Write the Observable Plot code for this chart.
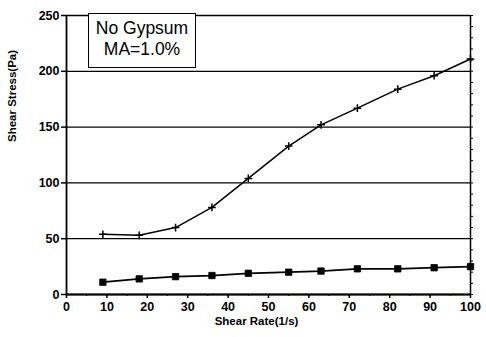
<!DOCTYPE html>
<html>
<head>
<meta charset="utf-8">
<script src="https://cdn.jsdelivr.net/npm/d3@7"></script>
<script src="https://cdn.jsdelivr.net/npm/@observablehq/plot@0.6"></script>
<style>
  html, body { margin: 0; padding: 0; background: #fff; }
  #wrap { position: relative; width: 486px; height: 337px; }
  #note {
    position: absolute; left: 88px; top: 13px; width: 106px; height: 49px;
    border: 1.5px solid #000; background: #fff;
    font-family: "Liberation Sans", Arial, sans-serif; font-size: 17.5px;
    line-height: 21px; text-align: center; padding-top: 4px; box-sizing: content-box;
  }
</style>
</head>
<body>
<div id="wrap"></div>
<script>
// Shear rate (1/s) at each measurement
const shearRate = [9, 18, 27, 36, 45, 55, 63, 72, 82, 91, 100];
// Shear stress (Pa) for the two runs
const stressUpper = [54, 53, 60, 78, 104, 133, 152, 167, 184, 196, 211];
const stressLower = [11, 14, 16, 17, 19, 20, 21, 23, 23, 24, 25];
const xTicks = [0, 10, 20, 30, 40, 50, 60, 70, 80, 90, 100];
const yTicks = [0, 50, 100, 150, 200, 250];
const noteLines = ["No Gypsum", "MA=1.0%"];

const upper = shearRate.map((x, i) => ({x, y: stressUpper[i]}));
const lower = shearRate.map((x, i) => ({x, y: stressLower[i]}));

const font = "'Liberation Sans', Arial, sans-serif";

const chart = Plot.plot({
  width: 486,
  height: 337,
  marginLeft: 66,
  marginRight: 16,
  marginTop: 15,
  marginBottom: 43,
  style: {fontFamily: font, fontSize: "12px", fontWeight: "bold", color: "#000", background: "#fff"},
  x: {domain: [0, 100], label: null},
  y: {domain: [0, 250], label: null},
  marks: [
    Plot.gridY(yTicks, {stroke: "#000", strokeOpacity: 1, strokeWidth: 1.3}),
    Plot.ruleY([0], {stroke: "#000", strokeWidth: 1.8}),
    Plot.ruleX([0], {stroke: "#000", strokeWidth: 1.8}),
    Plot.ruleX([100], {stroke: "#000", strokeWidth: 1.5}),
    Plot.axisX(d3.range(0, 101, 5), {tickSize: 2, text: null, strokeWidth: 1}),
    Plot.axisX(xTicks, {tickSize: 4, tickPadding: 4, fontSize: 12.5, fontWeight: "bold", strokeWidth: 1.5}),
    Plot.axisY(yTicks, {tickSize: 5, tickPadding: 2, fontSize: 12.5, fontWeight: "bold", strokeWidth: 1.5}),
    Plot.axisY(d3.range(0, 251, 10), {anchor: "right", tickSize: 2, text: null, strokeWidth: 1}),
    Plot.lineY(upper, {x: "x", y: "y", stroke: "#000", strokeWidth: 1.5}),
    Plot.dot(upper, {x: "x", y: "y", symbol: "plus", r: 2.6, stroke: "#000", strokeWidth: 1.5}),
    Plot.lineY(lower, {x: "x", y: "y", stroke: "#000", strokeWidth: 1.8}),
    Plot.dot(lower, {x: "x", y: "y", symbol: "square", r: 3.6, fill: "#000", stroke: "#000", strokeWidth: 0.8}),
    Plot.text(["Shear Rate(1/s)"], {frameAnchor: "bottom", dx: -12, dy: 30, fontSize: 11.5, fontWeight: "bold"}),
    Plot.text(["Shear Stress(Pa)"], {frameAnchor: "left", dx: -54, dy: -13, rotate: -90, fontSize: 11.5, fontWeight: "bold"})
  ]
});

const wrap = document.getElementById("wrap");
wrap.appendChild(chart);
const note = document.createElement("div");
note.id = "note";
note.innerHTML = noteLines.join("<br>");
wrap.appendChild(note);
</script>
</body>
</html>
